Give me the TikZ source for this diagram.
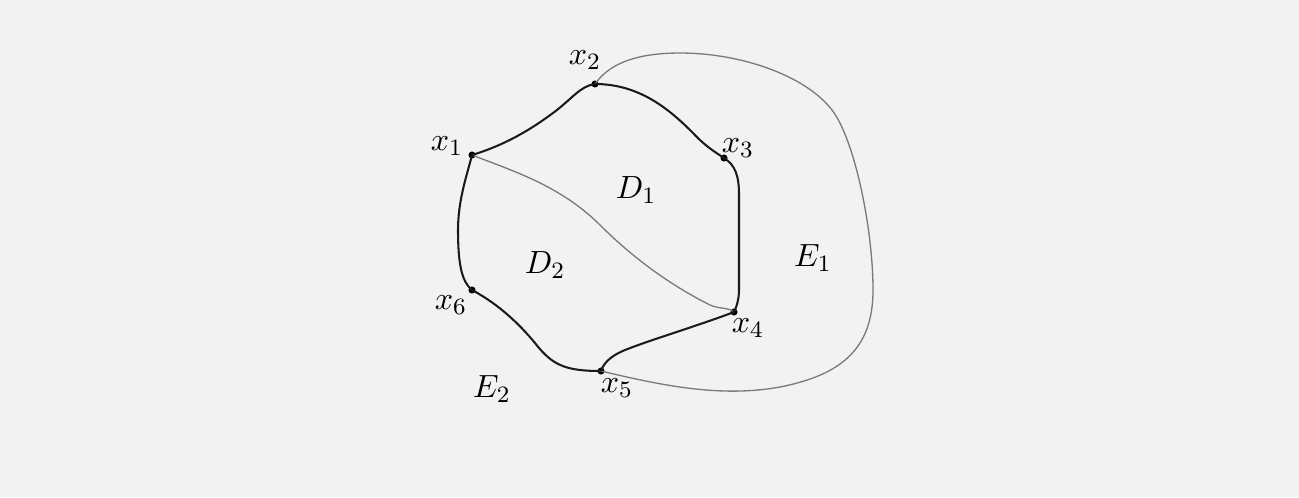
\documentclass[tikz,border=0pt]{standalone}
\usepackage{tikz}
\usetikzlibrary{positioning,calc}
\definecolor{bgpage}{HTML}{F2F2F2}
\definecolor{edgethin}{HTML}{7A7A7A}
\definecolor{edgethick}{HTML}{1A1A1A}

\begin{document}
\begin{tikzpicture}[x=0.012cm,y=-0.012cm,
  vertex/.style={circle, fill=black, inner sep=0pt, minimum size=0.085cm},
  tag/.style={inner sep=1pt, font=\fontsize{11}{13}\selectfont},
  thickedge/.style={draw=edgethick, line width=0.7pt},
  thinedge/.style={draw=edgethin, line width=0.45pt}]
\fill[bgpage] (0,0) rectangle (1299,497);
\useasboundingbox (0,0) rectangle (1299,497);
% vertices
\node[vertex] (x1) at (472,155) {};
\node[vertex] (x2) at (595,84) {};
\node[vertex] (x3) at (724,158) {};
\node[vertex] (x4) at (734,312) {};
\node[vertex] (x5) at (601,371) {};
\node[vertex] (x6) at (472,290) {};
% outer thin curves
\draw[thinedge] (x2.center) .. controls (605,70) and (625,53) .. (680,53)
  .. controls (740,53) and (805,75) .. (832,110)
  .. controls (855,140) and (873,230) .. (873,290)
  .. controls (873,350) and (840,375) .. (780,387)
  .. controls (720,398) and (660,385) .. (x5.center);
\draw[thinedge] (x1.center) .. controls (510,170) and (560,185) .. (600,225)
  .. controls (640,265) and (680,290) .. (710,305)
  .. controls (718,309) and (728,307) .. (x4.center);
% boundary of the hexagon
\draw[thickedge] (x1.center) .. controls (505,145) and (530,130) .. (553,113)
  .. controls (572,99) and (580,86) .. (x2.center);
\draw[thickedge] (x2.center) .. controls (640,84) and (670,110) .. (693,133)
  .. controls (705,146) and (715,152) .. (x3.center);
\draw[thickedge] (x3.center) .. controls (735,165) and (739,175) .. (739,195)
  -- (739,290) .. controls (739,300) and (736,308) .. (x4.center);
\draw[thickedge] (x4.center) .. controls (700,325) and (650,340) .. (625,350)
  .. controls (608,357) and (603,365) .. (x5.center);
\draw[thickedge] (x6.center) .. controls (500,305) and (520,325) .. (535,343)
  .. controls (552,365) and (565,371) .. (x5.center);
\draw[thickedge] (x1.center) .. controls (467,175) and (458,200) .. (458,230)
  .. controls (458,265) and (462,282) .. (x6.center);
% labels
\node[tag] (lx1) at (447,146) {$x_1$};
\node[tag] (lx2) at (585,60) {$x_2$};
\node[tag] (lx3) at (738,148) {$x_3$};
\node[tag] (lx4) at (748,328) {$x_4$};
\node[tag] (lx5) at (617,388) {$x_5$};
\node[tag] (lx6) at (451,305) {$x_6$};
\node[tag] (d1) at (636,190) {$D_1$};
\node[tag] (d2) at (545,265) {$D_2$};
\node[tag] (e1) at (813,258) {$E_1$};
\node[tag] (e2) at (492,389) {$E_2$};
\end{tikzpicture}
\end{document}
